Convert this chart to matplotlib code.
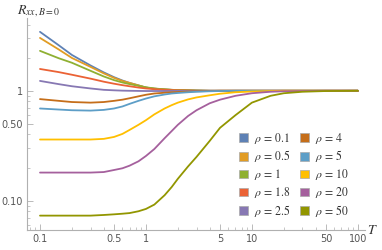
import numpy as np
import matplotlib
matplotlib.use("Agg")
import matplotlib.pyplot as plt
from matplotlib.patches import Patch
from matplotlib.ticker import FixedLocator, NullFormatter

plt.rcParams['mathtext.fontset'] = 'stix'
plt.rcParams['font.family'] = ['DejaVu Sans']

# temperature grid
T = [0.1, 0.15, 0.2, 0.3, 0.4, 0.5, 0.6, 0.7, 0.85, 1, 1.2, 1.5, 1.75, 2, 2.5, 3, 4, 5, 7, 10, 15, 20, 30, 50, 100]

rho_labels = ['0.1', '0.5', '1', '1.8', '2.5', '4', '5', '10', '20', '50']

R_0_1 = [3.44, 2.60, 2.12, 1.70, 1.47, 1.33, 1.24, 1.18, 1.12, 1.07, 1.045, 1.03, 1.02, 1.015, 1.01, 1.005, 1.0, 1.0, 1.0, 1.0, 1.0, 1.0, 1.0, 1.0, 1.0]
R_0_5 = [3.03, 2.38, 1.99, 1.65, 1.44, 1.31, 1.23, 1.18, 1.12, 1.07, 1.045, 1.03, 1.02, 1.015, 1.01, 1.005, 1.0, 1.0, 1.0, 1.0, 1.0, 1.0, 1.0, 1.0, 1.0]
R_1 = [2.31, 1.98, 1.80, 1.52, 1.35, 1.25, 1.19, 1.15, 1.11, 1.076, 1.05, 1.03, 1.02, 1.015, 1.01, 1.005, 1.0, 1.0, 1.0, 1.0, 1.0, 1.0, 1.0, 1.0, 1.0]
R_1_8 = [1.58, 1.48, 1.40, 1.29, 1.21, 1.16, 1.125, 1.10, 1.07, 1.05, 1.035, 1.02, 1.015, 1.01, 1.005, 1.0, 1.0, 1.0, 1.0, 1.0, 1.0, 1.0, 1.0, 1.0, 1.0]
R_2_5 = [1.23, 1.15, 1.10, 1.05, 1.02, 1.01, 1.003, 1.0, 0.997, 0.995, 0.995, 0.995, 0.996, 0.997, 0.998, 1.0, 1.0, 1.0, 1.0, 1.0, 1.0, 1.0, 1.0, 1.0, 1.0]
R_4 = [0.84, 0.81, 0.79, 0.78, 0.79, 0.81, 0.83, 0.855, 0.89, 0.92, 0.945, 0.96, 0.97, 0.975, 0.985, 0.99, 0.995, 1.0, 1.0, 1.0, 1.0, 1.0, 1.0, 1.0, 1.0]
R_5 = [0.69, 0.675, 0.665, 0.66, 0.67, 0.69, 0.72, 0.76, 0.81, 0.85, 0.89, 0.925, 0.945, 0.955, 0.97, 0.98, 0.99, 0.995, 1.0, 1.0, 1.0, 1.0, 1.0, 1.0, 1.0]
R_10 = [0.36, 0.36, 0.36, 0.36, 0.365, 0.38, 0.405, 0.44, 0.49, 0.54, 0.61, 0.69, 0.74, 0.78, 0.835, 0.87, 0.91, 0.94, 0.97, 0.985, 0.995, 1.0, 1.0, 1.0, 1.0]
R_20 = [0.18, 0.18, 0.18, 0.18, 0.182, 0.19, 0.197, 0.208, 0.228, 0.255, 0.295, 0.37, 0.43, 0.49, 0.59, 0.665, 0.77, 0.83, 0.90, 0.95, 0.98, 0.99, 0.995, 1.0, 1.0]
R_50 = [0.073, 0.073, 0.073, 0.073, 0.074, 0.075, 0.076, 0.077, 0.08, 0.084, 0.092, 0.112, 0.133, 0.158, 0.205, 0.25, 0.35, 0.46, 0.60, 0.78, 0.90, 0.95, 0.98, 0.995, 1.0]

series = [R_0_1, R_0_5, R_1, R_1_8, R_2_5, R_4, R_5, R_10, R_20, R_50]

# Mathematica default palette
colors = ['#5E81B5', '#E19C24', '#8FB032', '#EB6235', '#8778B3',
          '#C56E1A', '#5D9EC7', '#FFBF00', '#A5609D', '#929600']

xticks = [0.1, 0.5, 1, 5, 10, 50, 100]
xticklabels = ['0.1', '0.5', '1', '5', '10', '50', '100']
yticks = [0.1, 0.5, 1]
yticklabels = ['0.10', '0.50', '1']

fig = plt.figure(figsize=(3.82, 2.5), dpi=100)
ax = fig.add_axes([0.0707, 0.08, 0.884, 0.848])

for vals, c in zip(series, colors):
    ax.plot(T, vals, color=c, lw=1.3, solid_capstyle='round', solid_joinstyle='round')

ax.set_xscale('log')
ax.set_yscale('log')
ax.set_xlim(0.0754, 116)
ax.set_ylim(0.054, 4.6)

axis_col = '#b0b0b0'
for s in ['top', 'right']:
    ax.spines[s].set_visible(False)
for s in ['left', 'bottom']:
    ax.spines[s].set_color(axis_col)
    ax.spines[s].set_linewidth(0.8)

ax.xaxis.set_major_locator(FixedLocator(xticks))
ax.set_xticklabels(xticklabels)
ax.yaxis.set_major_locator(FixedLocator(yticks))
ax.set_yticklabels(yticklabels)
minx = [m * 10.0 ** e for e in range(-2, 3) for m in range(1, 10)]
minx = [v for v in minx if v not in xticks]
ax.xaxis.set_minor_locator(FixedLocator(minx))
miny = [m * 10.0 ** e for e in range(-2, 1) for m in range(1, 10)]
miny = [v for v in miny if v not in yticks]
ax.yaxis.set_minor_locator(FixedLocator(miny))
ax.xaxis.set_minor_formatter(NullFormatter())
ax.yaxis.set_minor_formatter(NullFormatter())
ax.tick_params(which='major', length=4, width=0.6, color=axis_col, labelsize=7,
               labelcolor='#555555', direction='in', pad=3)
ax.tick_params(which='minor', length=2, width=0.5, color=axis_col, direction='in')

fig.text(0.045, 0.955, r'$R_{xx,B=0}$', fontsize=10, ha='left', va='center', color='#333333')
fig.text(0.962, 0.08, r'$T$', fontsize=10, ha='left', va='center', color='#333333')

handles = [Patch(facecolor=c, edgecolor='#aaaaaa', lw=0.5) for c in colors]
labels = [r'$\rho \,=\, %s$' % r for r in rho_labels]
leg = fig.legend(handles, labels, ncol=2, loc='upper left',
                 bbox_to_anchor=(0.626, 0.478), frameon=False,
                 fontsize=8.5, handlelength=0.75, handleheight=0.75,
                 handletextpad=0.5, columnspacing=0.8, labelspacing=0.24,
                 borderpad=0, borderaxespad=0)
for t in leg.get_texts():
    t.set_color('#333333')

fig.savefig('out.png', dpi=100)
